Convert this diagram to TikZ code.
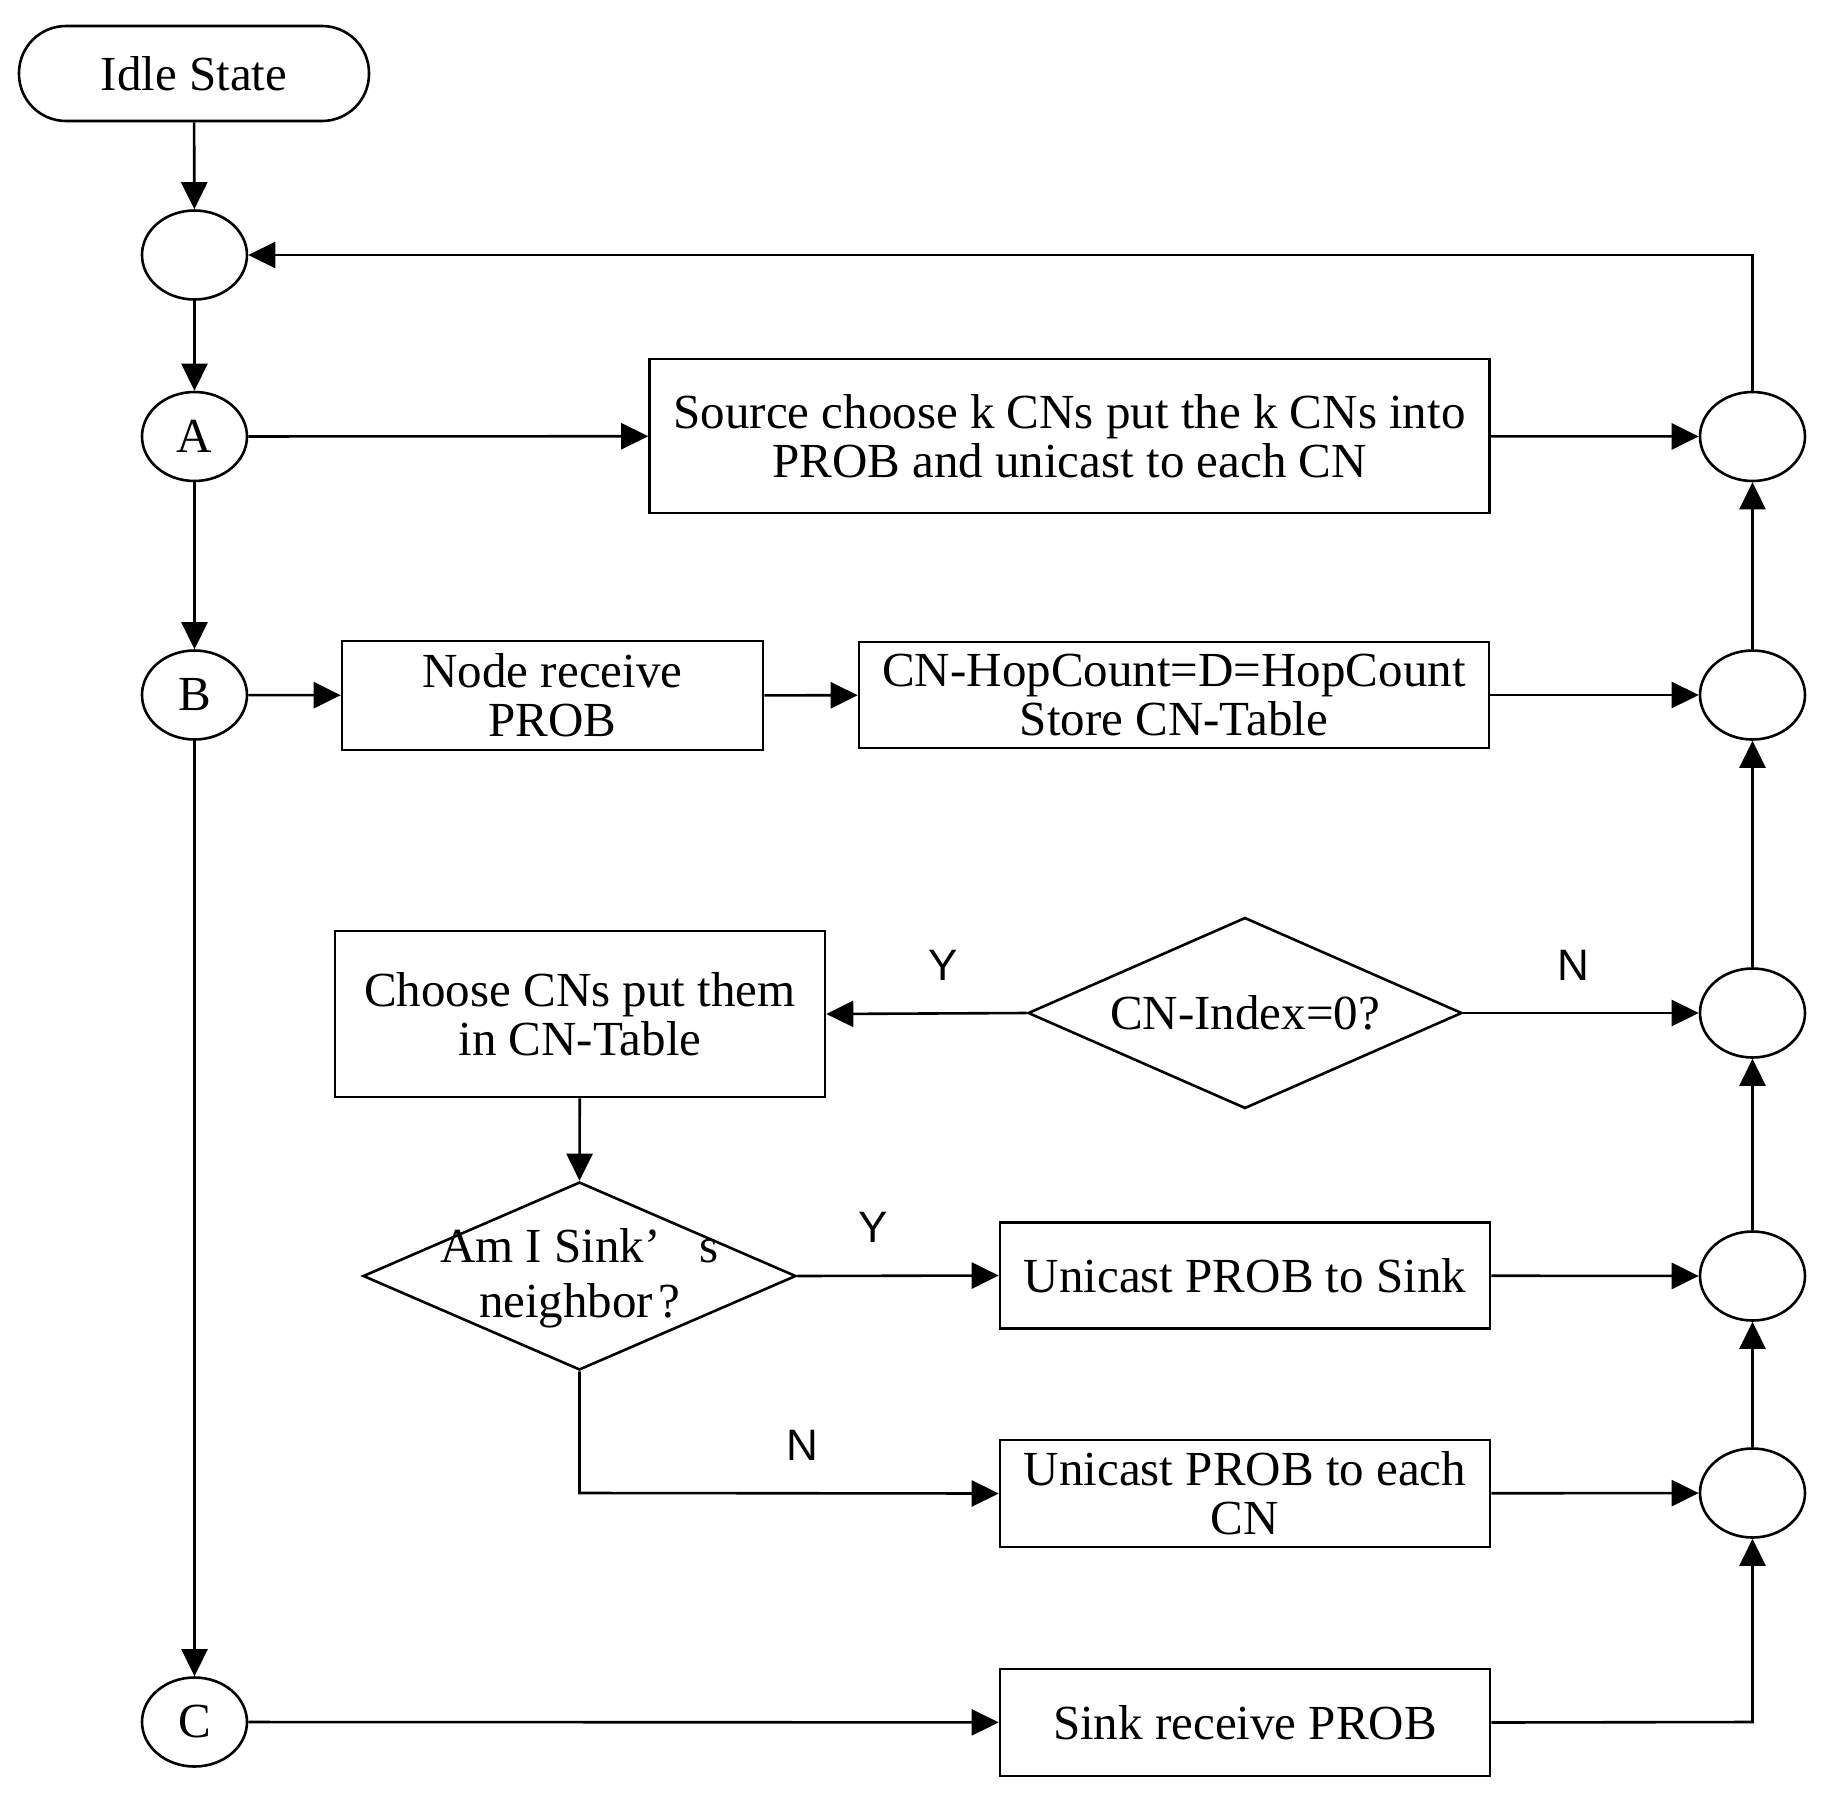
\documentclass[tikz,border=0pt]{standalone}
\usepackage{fontspec}
\setmainfont{Liberation Serif}
\newfontfamily\labfont{Liberation Sans}
\usetikzlibrary{shapes.geometric,arrows.meta}
\begin{document}
\begin{tikzpicture}[x=0.5pt,y=-0.5pt,
  every node/.style={font=\fontsize{24.5}{24.5}\selectfont},
  conn/.style={line width=1.3pt,-{Triangle[length=13.5pt,width=13pt]}},
  boxnode/.style={draw,line width=1.3pt,rectangle,align=center,inner sep=0pt},
  oval/.style={draw,line width=1.3pt,ellipse,minimum width=52.5pt,minimum height=44.5pt,inner sep=0pt},
  dia/.style={draw,line width=1.3pt,diamond,inner sep=0pt},
  txt/.style={align=center,inner sep=0pt},
  yn/.style={font=\labfont\fontsize{22}{22}\selectfont,inner sep=0pt}]
\useasboundingbox (0,0) rectangle (1833,1815);
% left column
\node[draw,line width=1.3pt,rectangle,rounded corners=23.5pt,minimum width=175pt,minimum height=47.5pt,inner sep=0pt] (idle) at (194,73.5) {Idle State};
\node[oval] (c0) at (194.5,255) {};
\node[oval] (A) at (194.5,436.5) {A};
\node[oval] (B) at (194.5,695) {B};
\node[oval] (C) at (194.5,1722) {C};
% right column
\node[oval] (r1) at (1752.5,436.5) {};
\node[oval] (r2) at (1752.5,695) {};
\node[oval] (r3) at (1752.5,1013) {};
\node[oval] (r4) at (1752.5,1276) {};
\node[oval] (r5) at (1752.5,1493) {};
% boxes
\node[boxnode,minimum width=420pt,minimum height=77pt] (src) at (1069.5,436) {Source choose k CNs put the k CNs into\\PROB and unicast to each CN};
\node[boxnode,minimum width=210.5pt,minimum height=54.5pt] (nrp) at (552.5,695.5) {Node receive\\PROB};
\node[boxnode,minimum width=315pt,minimum height=53pt] (hop) at (1174,695) {CN-HopCount=D=HopCount\\Store CN-Table};
\node[boxnode,minimum width=245pt,minimum height=83pt] (ch) at (580,1014) {Choose CNs put them\\in CN-Table};
\node[boxnode,minimum width=245pt,minimum height=53pt] (us) at (1245,1275.5) {Unicast PROB to Sink};
\node[boxnode,minimum width=245pt,minimum height=53.5pt] (ue) at (1245,1493.5) {Unicast PROB to each\\CN};
\node[boxnode,minimum width=245pt,minimum height=53.5pt] (sr) at (1245,1722.5) {Sink receive PROB};
% diamonds
\node[dia,minimum width=217pt,minimum height=95.5pt] (d1) at (1245,1013) {};
\node[txt] (d1t) at (d1) {CN-Index=0?};
\node[dia,minimum width=216.5pt,minimum height=94pt] (d2) at (579.5,1276) {};
\node[txt] (d2t) at (579.5,1278) {Am I Sink’\hspace{0.8em}s\\[3pt]neighbor\hspace{0.1em}?};
% labels
\node[yn] (ly1) at (943,965) {Y};
\node[yn] (ln1) at (1573,965) {N};
\node[yn] (ly2) at (873,1227) {Y};
\node[yn] (ln2) at (802,1445) {N};
\coordinate (cr) at (1752.5,1722);
\coordinate (top) at (1752.5,255);
\coordinate (dn) at (579.5,1493);
% connectors
\draw[conn] (idle) -- (c0);
\draw[conn] (c0) -- (A);
\draw[conn] (A) -- (B);
\draw[conn] (B) -- (C);
\draw[conn] (r1.north) -- (top) -- (c0.east);
\draw[conn] (A) -- (src);
\draw[conn] (src) -- (r1);
\draw[conn] (B) -- (nrp);
\draw[conn] (nrp) -- (hop);
\draw[conn] (hop) -- (r2);
\draw[conn] (r2) -- (r1);
\draw[conn] (r3) -- (r2);
\draw[conn] (r4) -- (r3);
\draw[conn] (r5) -- (r4);
\draw[conn] (d1.west) -- (ch.east);
\draw[conn] (d1.east) -- (r3.west);
\draw[conn] (ch) -- (d2.north);
\draw[conn] (d2.east) -- (us.west);
\draw[conn] (d2.south) -- (dn) -- (ue.west);
\draw[conn] (us) -- (r4);
\draw[conn] (ue) -- (r5);
\draw[conn] (C) -- (sr);
\draw[conn] (sr.east) -- (cr) -- (r5.south);
\end{tikzpicture}
\end{document}
